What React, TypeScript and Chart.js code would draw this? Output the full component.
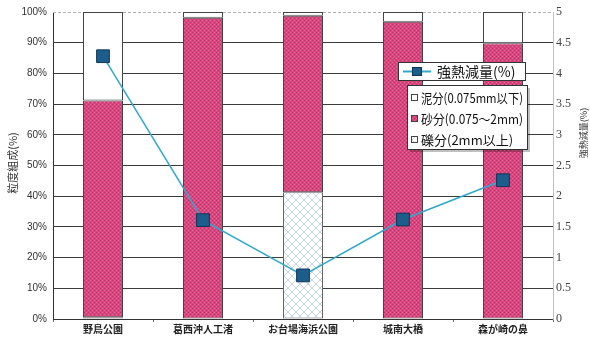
import React, { useEffect, useRef } from 'react';
import { Chart, registerables } from 'chart.js';

Chart.register(...registerables);

const categories = ['野鳥公園', '葛西沖人工渚', 'お台場海浜公園', '城南大橋', '森が崎の鼻'];
const gravel = [0.6, 0, 41.3, 0, 0];
const sand = [70.6, 98.1, 57.5, 96.8, 89.8];
const mud = [28.8, 1.9, 1.2, 3.2, 10.2];
const ignitionLoss = [4.28, 1.61, 0.71, 1.62, 2.26];

const seriesNames = ['泥分(0.075mm以下)', '砂分(0.075～2mm)', '礫分(2mm以上)'];
const lineName = '強熱減量(%)';
const leftTitle = '粒度組成(%)';
const rightTitle = '強熱減量(%)';

const JP = '"Noto Sans CJK JP", "Noto Sans", sans-serif';

function pinkPattern(): CanvasPattern | string {
  const c = document.createElement('canvas');
  c.width = 4; c.height = 4;
  const g = c.getContext('2d');
  if (!g) return '#d8467f';
  g.fillStyle = '#d8467f';
  g.fillRect(0, 0, 4, 4);
  g.fillStyle = '#c3306a';
  g.fillRect(0, 0, 1, 1);
  g.fillRect(2, 2, 1, 1);
  g.fillStyle = '#e46a98';
  g.fillRect(2, 0, 1, 1);
  g.fillRect(0, 2, 1, 1);
  return g.createPattern(c, 'repeat') || '#d8467f';
}

function hatchPattern(): CanvasPattern | string {
  const c = document.createElement('canvas');
  c.width = 8; c.height = 8;
  const g = c.getContext('2d');
  if (!g) return '#eef3fa';
  g.fillStyle = '#ffffff';
  g.fillRect(0, 0, 8, 8);
  g.strokeStyle = '#c4d4ea';
  g.lineWidth = 1;
  g.beginPath();
  g.moveTo(0, 0); g.lineTo(8, 8);
  g.moveTo(8, 0); g.lineTo(0, 8);
  g.stroke();
  return g.createPattern(c, 'repeat') || '#eef3fa';
}

function fitText(ctx: CanvasRenderingContext2D, text: string, x: number, y: number, maxW: number) {
  const w = ctx.measureText(text).width;
  const s = w > maxW ? maxW / w : 1;
  ctx.save();
  ctx.translate(x, y);
  ctx.scale(s, 1);
  ctx.fillText(text, 0, 0);
  ctx.restore();
}

export default function App() {
  const ref = useRef<HTMLCanvasElement | null>(null);

  useEffect(() => {
    const canvas = ref.current;
    if (!canvas) return;
    const pink = pinkPattern();
    const hatch = hatchPattern();

    const overlay = {
      id: 'overlay',
      beforeDatasetsDraw(chart: any) {
        const { ctx, chartArea, scales } = chart;
        const y = Math.round(scales.y.getPixelForValue(100)) + 0.5;
        ctx.save();
        ctx.strokeStyle = '#b0b0b0';
        ctx.lineWidth = 1;
        ctx.setLineDash([3, 2]);
        ctx.beginPath();
        ctx.moveTo(chartArea.left, y);
        ctx.lineTo(chartArea.right, y);
        ctx.stroke();
        ctx.restore();
      },
      afterDraw(chart: any) {
        const { ctx } = chart;
        ctx.save();
        // axis titles
        ctx.fillStyle = '#333';
        ctx.textAlign = 'center';
        ctx.textBaseline = 'middle';
        ctx.font = `11px ${JP}`;
        ctx.translate(13, 163);
        ctx.rotate(-Math.PI / 2);
        ctx.fillText(leftTitle, 0, 0);
        ctx.setTransform(1, 0, 0, 1, 0, 0);
        ctx.font = `9px ${JP}`;
        ctx.translate(584, 133);
        ctx.rotate(-Math.PI / 2);
        ctx.fillText(rightTitle, 0, 0);
        ctx.setTransform(1, 0, 0, 1, 0, 0);

        // legend box 1 (line)
        ctx.fillStyle = '#fff';
        ctx.fillRect(398, 62, 127, 18);
        ctx.strokeStyle = '#333';
        ctx.lineWidth = 1;
        ctx.strokeRect(398.5, 62.5, 127, 18);
        ctx.strokeStyle = '#2fa8cc';
        ctx.lineWidth = 2;
        ctx.beginPath();
        ctx.moveTo(403, 71.5);
        ctx.lineTo(431, 71.5);
        ctx.stroke();
        ctx.fillStyle = '#1d5d8c';
        ctx.fillRect(412, 67, 10, 9);
        ctx.strokeStyle = '#0e3558';
        ctx.lineWidth = 1;
        ctx.strokeRect(412.5, 67.5, 9, 8);
        ctx.fillStyle = '#111';
        ctx.textAlign = 'left';
        ctx.textBaseline = 'middle';
        ctx.font = `14px ${JP}`;
        fitText(ctx, lineName, 437, 72, 81);

        // legend box 2 (bars)
        ctx.fillStyle = 'rgba(0,0,0,0.25)';
        ctx.fillRect(410, 88, 120, 64);
        ctx.fillStyle = '#fff';
        ctx.fillRect(407, 85, 120, 64);
        ctx.strokeStyle = '#333';
        ctx.strokeRect(407.5, 85.5, 120, 64);
        const fills = ['#ffffff', pink, hatch];
        const rows = [98, 119, 140];
        ctx.font = `13px ${JP}`;
        for (let i = 0; i < 3; i++) {
          ctx.fillStyle = fills[i] as any;
          ctx.fillRect(411, rows[i] - 4, 7, 7);
          ctx.strokeStyle = '#444';
          ctx.strokeRect(411.5, rows[i] - 3.5, 6, 6);
          ctx.fillStyle = '#111';
          fitText(ctx, seriesNames[i], 421, rows[i], 102);
        }
        ctx.restore();
      },
    };

    const chart = new Chart(canvas, {
      type: 'bar',
      data: {
        labels: categories,
        datasets: [
          {
            type: 'line',
            label: lineName,
            data: ignitionLoss,
            yAxisID: 'y1',
            borderColor: '#2fa8cc',
            borderWidth: 1.5,
            pointStyle: 'rect',
            pointRadius: 9,
            pointBackgroundColor: '#1d5d8c',
            pointBorderColor: '#0e3558',
            pointBorderWidth: 1,
            order: 0,
          } as any,
          {
            label: seriesNames[2],
            data: gravel,
            backgroundColor: hatch as any,
            borderColor: '#666',
            borderWidth: 1,
            borderSkipped: false,
            yAxisID: 'y',
            order: 1,
          },
          {
            label: seriesNames[1],
            data: sand,
            backgroundColor: pink as any,
            borderColor: '#444',
            borderWidth: 1,
            borderSkipped: false,
            yAxisID: 'y',
            order: 1,
          },
          {
            label: seriesNames[0],
            data: mud,
            backgroundColor: '#ffffff',
            borderColor: '#444',
            borderWidth: 1,
            borderSkipped: false,
            yAxisID: 'y',
            order: 1,
          },
        ],
      },
      options: {
        responsive: false,
        animation: false,
        layout: { padding: { top: 11, left: 0, right: 0, bottom: 0 } },
        datasets: { bar: { barPercentage: 0.4, categoryPercentage: 1 } },
        plugins: { legend: { display: false }, tooltip: { enabled: false } },
        scales: {
          x: {
            stacked: true,
            afterFit: (s: any) => { s.height = 28; },
            grid: { display: true, drawOnChartArea: false, drawTicks: true, tickLength: 3, color: '#666' },
            border: { display: true, color: '#333', width: 1 },
            ticks: { color: '#222', padding: 1, font: { family: JP, size: 10, weight: 'bold' } },
          },
          y: {
            stacked: true,
            position: 'left',
            min: 0,
            max: 100,
            afterFit: (s: any) => { s.width = 53; },
            grid: {
              color: (c: any) => (c.tick && c.tick.value === 100 ? 'rgba(0,0,0,0)' : '#3c3c3c'),
              lineWidth: 1,
              drawTicks: false,
            },
            border: { display: true, color: '#333', width: 1 },
            ticks: {
              stepSize: 10,
              padding: 6,
              color: '#333',
              font: { family: '"Liberation Sans", Arial, sans-serif', size: 10 },
              callback: (v: any) => `${v}%`,
            },
          },
          y1: {
            position: 'right',
            min: 0,
            max: 5,
            afterFit: (s: any) => { s.width = 37; },
            grid: { drawOnChartArea: false, drawTicks: false },
            border: { display: true, color: '#c0c0c0', width: 1 },
            ticks: {
              stepSize: 0.5,
              padding: 3,
              color: '#444',
              font: { family: '"Liberation Serif", "DejaVu Serif", serif', size: 12 },
              callback: (v: any) => String(Math.round(Number(v) * 10) / 10),
            },
          },
        },
      },
      plugins: [overlay],
    });
    return () => chart.destroy();
  }, []);

  return (
    <div style={{ position: 'fixed', left: 0, top: 0, width: 590, height: 347, background: '#fff' }}>
      <canvas ref={ref} width={590} height={347} style={{ display: 'block' }} />
    </div>
  );
}
